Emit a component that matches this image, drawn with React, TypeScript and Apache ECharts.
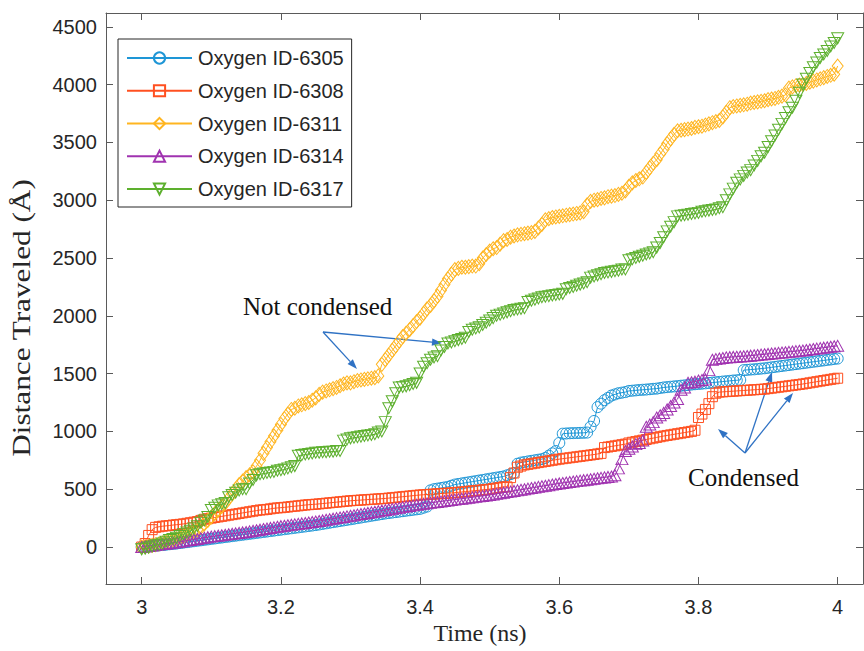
import React, { useEffect, useRef } from "react";
import * as echarts from "echarts";

// Sample times (ns): 3.000 .. 4.000 in steps of 0.005
const times: number[] = Array.from({ length: 201 }, (_, i) => +(3 + i * 0.005).toFixed(3));

const seriesNames = ["Oxygen ID-6305", "Oxygen ID-6308", "Oxygen ID-6311", "Oxygen ID-6314", "Oxygen ID-6317"];

const id6305 = [
  0, 2, 5, 8, 11, 14, 17, 20, 24, 27,
  30, 34, 38, 42, 46, 50, 54, 58, 62, 66,
  70, 74, 78, 82, 86, 90, 94, 98, 102, 106,
  110, 114, 118, 122, 126, 130, 134, 138, 142, 146,
  150, 154, 158, 162, 166, 170, 174, 178, 182, 186,
  190, 195, 200, 205, 210, 215, 220, 225, 230, 235,
  240, 245, 250, 255, 260, 265, 270, 275, 280, 285,
  290, 294, 298, 302, 306, 310, 314, 318, 322, 326,
  330, 340, 350, 490, 500, 505, 510, 515, 520, 530,
  540, 545, 550, 555, 560, 565, 570, 575, 580, 585,
  590, 595, 600, 605, 610, 620, 630, 640, 720, 730,
  735, 740, 745, 750, 755, 760, 770, 790, 810, 830,
  900, 980, 982, 984, 985, 986, 987, 988, 990, 1040,
  1090, 1210, 1240, 1270, 1290, 1310, 1320, 1330, 1335, 1340,
  1350, 1352, 1355, 1358, 1360, 1362, 1365, 1368, 1370, 1375,
  1380, 1383, 1386, 1389, 1392, 1395, 1398, 1401, 1405, 1408,
  1410, 1413, 1416, 1419, 1422, 1425, 1428, 1431, 1434, 1437,
  1440, 1442, 1445, 1530, 1532, 1535, 1537, 1540, 1543, 1546,
  1550, 1554, 1558, 1562, 1566, 1570, 1574, 1578, 1582, 1586,
  1590, 1594, 1598, 1602, 1606, 1610, 1614, 1618, 1622, 1626,
  1630,
];

const id6308 = [
  0, 30, 100, 150, 170, 175, 180, 183, 186, 190,
  193, 196, 200, 205, 210, 215, 220, 230, 240, 245,
  250, 255, 260, 265, 270, 275, 280, 285, 290, 295,
  300, 305, 310, 315, 320, 322, 325, 330, 335, 338,
  340, 343, 346, 350, 353, 356, 360, 363, 366, 368,
  370, 373, 376, 379, 382, 385, 388, 391, 394, 397,
  400, 402, 404, 406, 408, 410, 412, 414, 416, 418,
  420, 423, 426, 429, 432, 435, 438, 441, 444, 447,
  450, 452, 454, 456, 458, 460, 462, 464, 466, 468,
  470, 473, 476, 479, 482, 485, 488, 491, 494, 497,
  500, 505, 510, 515, 520, 520, 600, 640, 690, 700,
  710, 715, 720, 725, 730, 735, 740, 745, 750, 755,
  760, 764, 768, 772, 776, 780, 784, 788, 792, 796,
  800, 805, 810, 860, 865, 870, 875, 880, 885, 890,
  900, 906, 912, 918, 924, 930, 936, 942, 948, 954,
  960, 965, 970, 975, 980, 985, 990, 995, 1000, 1010,
  1120, 1150, 1190, 1240, 1300, 1330, 1340, 1342, 1344, 1346,
  1348, 1350, 1352, 1354, 1356, 1358, 1360, 1362, 1364, 1366,
  1370, 1374, 1378, 1382, 1386, 1390, 1394, 1398, 1402, 1406,
  1410, 1415, 1420, 1425, 1430, 1435, 1440, 1445, 1450, 1455,
  1460,
];

const id6311 = [
  0, 3, 8, 14, 20, 27, 35, 42, 50, 60,
  70, 80, 92, 105, 118, 132, 150, 170, 200, 230,
  260, 290, 320, 350, 380, 420, 460, 500, 540, 570,
  600, 625, 650, 700, 750, 810, 860, 910, 960, 1010,
  1060, 1110, 1150, 1190, 1200, 1220, 1230, 1240, 1250, 1270,
  1290, 1320, 1340, 1350, 1360, 1370, 1380, 1395, 1410, 1420,
  1420, 1430, 1440, 1445, 1450, 1455, 1460, 1465, 1480, 1580,
  1620, 1660, 1700, 1740, 1780, 1820, 1850, 1880, 1915, 1950,
  1980, 2020, 2060, 2090, 2130, 2170, 2220, 2270, 2320, 2360,
  2400, 2410, 2420, 2420, 2425, 2430, 2430, 2450, 2500, 2530,
  2560, 2580, 2590, 2620, 2650, 2660, 2680, 2690, 2700, 2705,
  2710, 2715, 2720, 2730, 2760, 2790, 2830, 2840, 2850, 2855,
  2860, 2865, 2870, 2875, 2880, 2885, 2890, 2900, 2960, 2990,
  3000, 3005, 3015, 3020, 3030, 3035, 3040, 3050, 3060, 3080,
  3120, 3150, 3170, 3185, 3200, 3240, 3280, 3320, 3350, 3400,
  3440, 3490, 3530, 3570, 3600, 3605, 3610, 3615, 3620, 3630,
  3635, 3640, 3650, 3660, 3670, 3680, 3690, 3720, 3760, 3800,
  3810, 3815, 3820, 3825, 3830, 3840, 3845, 3850, 3855, 3860,
  3870, 3875, 3880, 3890, 3900, 3910, 3970, 3980, 3990, 3995,
  4000, 4010, 4020, 4030, 4040, 4050, 4060, 4070, 4080, 4090,
  4160,
];

const id6314 = [
  0, 5, 9, 13, 17, 21, 25, 29, 33, 37,
  40, 45, 50, 55, 60, 65, 70, 75, 80, 85,
  90, 94, 98, 102, 106, 110, 114, 118, 122, 126,
  130, 135, 140, 145, 150, 155, 160, 165, 170, 175,
  180, 184, 188, 192, 196, 200, 204, 208, 212, 216,
  220, 225, 230, 235, 240, 245, 250, 255, 260, 265,
  270, 275, 280, 285, 290, 295, 300, 305, 310, 315,
  320, 325, 330, 335, 340, 345, 350, 355, 360, 365,
  370, 374, 378, 382, 386, 390, 394, 398, 402, 406,
  410, 414, 418, 422, 426, 430, 434, 438, 442, 446,
  450, 455, 460, 465, 470, 475, 480, 485, 490, 495,
  500, 505, 510, 515, 520, 525, 530, 535, 540, 545,
  550, 554, 558, 562, 566, 570, 574, 578, 582, 586,
  590, 594, 598, 602, 606, 610, 620, 680, 760, 830,
  850, 870, 890, 900, 920, 1040, 1060, 1080, 1120, 1140,
  1160, 1190, 1220, 1250, 1280, 1360, 1380, 1420, 1425, 1430,
  1440, 1445, 1450, 1530, 1620, 1625, 1630, 1635, 1640, 1642,
  1644, 1646, 1648, 1650, 1652, 1655, 1658, 1661, 1664, 1667,
  1670, 1673, 1676, 1679, 1682, 1685, 1688, 1691, 1694, 1697,
  1700, 1704, 1708, 1712, 1716, 1720, 1724, 1728, 1732, 1736,
  1740,
];

const id6317 = [
  -20, -15, -5, 5, 15, 20, 30, 45, 60, 70,
  80, 95, 110, 125, 140, 160, 180, 210, 230, 260,
  320, 340, 360, 370, 380, 430, 450, 470, 490, 500,
  500, 550, 580, 620, 630, 635, 640, 645, 650, 660,
  665, 670, 680, 690, 700, 790, 795, 800, 805, 810,
  815, 815, 820, 820, 825, 825, 830, 830, 920, 930,
  940, 945, 950, 955, 960, 965, 970, 975, 990, 1000,
  1080, 1200, 1260, 1330, 1380, 1385, 1390, 1400, 1410, 1420,
  1500, 1560, 1590, 1620, 1640, 1650, 1700, 1730, 1760, 1770,
  1780, 1790, 1800, 1810, 1860, 1880, 1890, 1900, 1920, 1940,
  1960, 1980, 2000, 2010, 2020, 2030, 2040, 2050, 2055, 2060,
  2065, 2120, 2130, 2140, 2150, 2160, 2165, 2170, 2175, 2180,
  2185, 2190, 2230, 2240, 2250, 2260, 2270, 2280, 2290, 2330,
  2340, 2350, 2360, 2370, 2375, 2380, 2385, 2390, 2400, 2400,
  2480, 2490, 2500, 2510, 2520, 2530, 2540, 2550, 2590, 2630,
  2680, 2730, 2770, 2810, 2860, 2865, 2870, 2875, 2880, 2885,
  2890, 2900, 2905, 2910, 2915, 2920, 2930, 2940, 3000, 3050,
  3100, 3150, 3180, 3210, 3240, 3260, 3300, 3340, 3380, 3410,
  3460, 3510, 3560, 3610, 3660, 3710, 3760, 3800, 3860, 3930,
  4000, 4050, 4100, 4150, 4190, 4230, 4260, 4290, 4330, 4360,
  4400,
];

const xTicks = [3, 3.2, 3.4, 3.6, 3.8, 4];
const yTicks = [0, 500, 1000, 1500, 2000, 2500, 3000, 3500, 4000, 4500];

const colors = ["#1E96D6", "#FF5020", "#FFB520", "#A033B0", "#5DB02E"];
const symbols = [
  "circle",
  "rect",
  "diamond",
  "triangle",
  "path://M0,0 L20,0 L10,17.32 Z",
];
const symbolSizes: any[] = [[11, 11], [10, 10], [11, 14], [12, 11], [12, 11]];
const allValues = [id6305, id6308, id6311, id6314, id6317];

const SANS = "'Liberation Sans', Arial, sans-serif";
const SERIF = "'Liberation Serif', 'Times New Roman', serif";
const ARROW = "#2F72C4";
const AXIS = "#5a5a5a";

function arrow(x1: number, y1: number, x2: number, y2: number) {
  const ang = Math.atan2(y2 - y1, x2 - x1);
  const len = 10;
  const half = 3.6;
  const bx = x2 - len * Math.cos(ang);
  const by = y2 - len * Math.sin(ang);
  const px = -Math.sin(ang) * half;
  const py = Math.cos(ang) * half;
  return [
    {
      type: "line",
      shape: { x1, y1, x2: bx, y2: by },
      style: { stroke: ARROW, lineWidth: 1.3 },
      silent: true,
    },
    {
      type: "polygon",
      shape: { points: [[x2, y2], [bx + px, by + py], [bx - px, by - py]] },
      style: { fill: ARROW },
      silent: true,
    },
  ];
}

export default function App() {
  const ref = useRef<HTMLDivElement>(null);
  useEffect(() => {
    document.body.style.margin = "0";
    if (!ref.current) return;
    const chart = echarts.init(ref.current, undefined, { renderer: "svg" });
    const axisLine = { show: true, onZero: false, lineStyle: { color: AXIS, width: 1 } };
    const tick = (vals: number[]) => ({
      show: true,
      inside: true,
      length: 7,
      customValues: vals,
      lineStyle: { color: AXIS },
    });
    const option: any = {
      animation: false,
      backgroundColor: "#ffffff",
      grid: { left: 106, right: 1, top: 13, bottom: 67, containLabel: false },
      xAxis: [
        {
          type: "value",
          position: "bottom",
          min: 2.9487,
          max: 4.0364,
          axisLine,
          splitLine: { show: false },
          axisTick: tick(xTicks),
          axisLabel: {
            customValues: xTicks,
            fontFamily: SANS,
            fontSize: 20,
            color: "#262626",
            margin: 13,
            formatter: (v: number) => String(+v.toFixed(1)),
          },
        },
        {
          type: "value",
          position: "top",
          min: 2.9487,
          max: 4.0364,
          axisLine,
          splitLine: { show: false },
          axisTick: tick(xTicks),
          axisLabel: { show: false },
        },
      ],
      yAxis: [
        {
          type: "value",
          position: "left",
          min: -320,
          max: 4619,
          axisLine,
          splitLine: { show: false },
          axisTick: tick(yTicks),
          axisLabel: {
            customValues: yTicks,
            fontFamily: SANS,
            fontSize: 20,
            color: "#262626",
            margin: 9,
            formatter: (v: number) => String(Math.round(v)),
          },
        },
        {
          type: "value",
          position: "right",
          min: -320,
          max: 4619,
          axisLine,
          splitLine: { show: false },
          axisTick: tick(yTicks),
          axisLabel: { show: false },
        },
      ],
      legend: {
        show: true,
        left: 118,
        top: 39,
        orient: "vertical",
        itemWidth: 65,
        itemHeight: 14,
        itemGap: 12.75,
        padding: [9, 8, 8, 8],
        borderColor: "#262626",
        borderWidth: 1,
        backgroundColor: "#ffffff",
        textStyle: { fontFamily: SANS, fontSize: 20, color: "#262626", padding: [0, 0, 0, 1] },
        data: seriesNames,
      },
      series: seriesNames.map((name, k) => ({
        name,
        type: "line",
        xAxisIndex: 0,
        yAxisIndex: 0,
        data: times.map((t, i) => [t, allValues[k][i]]),
        symbol: symbols[k],
        symbolSize: symbolSizes[k],
        showSymbol: true,
        showAllSymbol: true,
        lineStyle: { color: colors[k], width: 1 },
        itemStyle: { color: "rgba(255,255,255,0)", borderColor: colors[k], borderWidth: 1 },
        emphasis: { disabled: true },
        z: 2 + k,
      })),
      graphic: [
        {
          type: "text",
          x: 480,
          y: 633,
          style: {
            text: "Time (ns)",
            font: `24px ${SERIF}`,
            fill: "#262626",
            align: "center",
            verticalAlign: "middle",
          },
        },
        {
          type: "text",
          x: 22,
          y: 318,
          rotation: Math.PI / 2,
          scaleX: 1.25,
          style: {
            text: "Distance Traveled (Å)",
            font: `25px ${SERIF}`,
            fill: "#262626",
            align: "center",
            verticalAlign: "middle",
          },
        },
        {
          type: "text",
          x: 243,
          y: 306,
          style: { text: "Not condensed", font: `25px ${SERIF}`, fill: "#111111", verticalAlign: "middle" },
        },
        {
          type: "text",
          x: 688,
          y: 477,
          style: { text: "Condensed", font: `25px ${SERIF}`, fill: "#111111", verticalAlign: "middle" },
        },
        ...arrow(323, 332, 357, 369),
        ...arrow(323, 332, 442, 343),
        ...arrow(745, 453, 718, 429),
        ...arrow(745, 453, 772, 372),
        ...arrow(745, 453, 793, 393),
      ],
    };
    chart.setOption(option);
    return () => chart.dispose();
  }, []);
  return <div ref={ref} style={{ width: 864, height: 651 }} />;
}
